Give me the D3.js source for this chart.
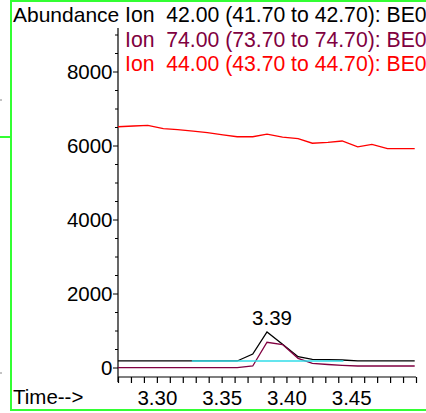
<!DOCTYPE html>
<html>
<head>
<meta charset="utf-8">
<script src="https://cdn.jsdelivr.net/npm/d3@7"></script>
<style>
  body { margin: 0; background: #fff; }
  svg { display: block; font-family: "Liberation Sans", Arial, sans-serif; }
  text { white-space: pre; }
</style>
</head>
<body>
<div id="chart"></div>
<script>
// Scan times (min)
const times = [3.270, 3.282, 3.293, 3.305, 3.316, 3.328, 3.339, 3.351, 3.362, 3.374,
    3.385, 3.397, 3.409, 3.420, 3.432, 3.443, 3.455, 3.466, 3.478, 3.489, 3.499];

// Ion 42.00 (black)
const ion42 = [190, 190, 190, 190, 190, 190, 190, 190, 190, 378,
    973, 640, 305, 235, 225, 216, 190, 190, 190, 190, 190];
// Ion 74.00 (purple)
const ion74 = [10, 10, 10, 10, 10, 10, 10, 10, 10, 54,
    695, 635, 262, 127, 95, 73, 54, 54, 54, 54, 54];
// Ion 44.00 (red)
const ion44 = [6520, 6540, 6560, 6470, 6440, 6400, 6360, 6300, 6250, 6250,
    6320, 6240, 6200, 6075, 6100, 6135, 5975, 6045, 5930, 5930, 5930];

// Integration baseline (cyan)
const baseTimes = [3.327, 3.444];
const baseValues = [190, 190];

const legendLabels = [
    "Ion  42.00 (41.70 to 42.70): BE0",
    "Ion  74.00 (73.70 to 74.70): BE0",
    "Ion  44.00 (43.70 to 44.70): BE0"
];
const legendColors = ["#000000", "#800040", "#ff0000"];

const peakTime = 3.385, peakValue = 973, peakLabel = "3.39";

const yLabelTicks = [0, 2000, 4000, 6000, 8000];
const xLabelTicks = [3.30, 3.35, 3.40, 3.45];

const width = 426, height = 413;
const fs = "20.5px";

const svg = d3.select("#chart").append("svg")
    .attr("width", width)
    .attr("height", height);

// Scales
const x = d3.scaleLinear().domain([3.27, 3.50]).range([118, 416]);
const y = d3.scaleLinear().domain([0, 8000]).range([368, 72]);
const axisTop = 28, axisBottom = 377;

// Green frame
const green = "#33ff33";
svg.append("line").attr("x1", 11).attr("x2", 11).attr("y1", 0).attr("y2", 411)
    .attr("stroke", green).attr("stroke-width", 2);
svg.append("line").attr("x1", 11).attr("x2", width).attr("y1", 1).attr("y2", 1)
    .attr("stroke", green).attr("stroke-width", 2);
svg.append("line").attr("x1", 11).attr("x2", width).attr("y1", 410).attr("y2", 410)
    .attr("stroke", green).attr("stroke-width", 2);
svg.append("line").attr("x1", 0).attr("x2", 11).attr("y1", 137).attr("y2", 137)
    .attr("stroke", green).attr("stroke-width", 2);
// stray marks from the neighbouring panel
[100, 373].forEach(function(yy) {
    svg.append("line").attr("x1", 0).attr("x2", 2).attr("y1", yy).attr("y2", yy)
        .attr("stroke", "#888");
});

// Y axis
const yMinor = d3.range(-0, 9001, 500);
const yAxis = svg.append("g").attr("transform", "translate(118,0)");
yAxis.append("line").attr("x1", 0).attr("x2", 0)
    .attr("y1", axisTop).attr("y2", 382).attr("stroke", "#000").attr("stroke-width", 1.2);
yAxis.selectAll(".ytick").data(yMinor).enter().append("line")
    .attr("x1", d => yLabelTicks.includes(d) ? -5 : -3)
    .attr("x2", 0)
    .attr("y1", d => y(d)).attr("y2", d => y(d))
    .attr("stroke", "#000");
yAxis.selectAll(".ylab").data(yLabelTicks).enter().append("text")
    .attr("x", -5.5)
    .attr("y", d => y(d))
    .attr("dy", "0.35em")
    .attr("text-anchor", "end")
    .style("font-size", fs)
    .text(d => d);

// X axis
const xAxis = d3.axisBottom(x)
    .tickValues(d3.range(3.27, 3.505, 0.01))
    .tickSize(6)
    .tickPadding(7.4)
    .tickFormat(d => xLabelTicks.some(v => Math.abs(v - d) < 1e-6) ? d3.format(".2f")(d) : "");
const gx = svg.append("g")
    .attr("transform", "translate(0," + axisBottom + ")")
    .call(xAxis);
gx.select(".domain").remove();
gx.selectAll("text").style("font-size", fs).style("font-family", "inherit").attr("fill", "#000");
gx.selectAll("line").attr("stroke-width", 1.2);
svg.append("line").attr("x1", 118).attr("x2", 416)
    .attr("y1", axisBottom).attr("y2", axisBottom)
    .attr("stroke", "#000").attr("stroke-width", 1.2);

// Axis titles
svg.append("text").attr("x", 13).attr("y", 22).style("font-size", "21px").text("Abundance");
svg.append("text").attr("x", 13).attr("y", 404).style("font-size", fs).text("Time-->");

// Legend
svg.selectAll(".legend").data(legendLabels).enter().append("text")
    .attr("x", 125)
    .attr("y", (d, i) => 22 + i * 24.5)
    .attr("fill", (d, i) => legendColors[i])
    .style("font-size", "21.2px")
    .text(d => d);

// Traces
const line = d3.line()
    .x(d => x(d[0]))
    .y(d => y(d[1]));

const series = [
    { values: ion44, color: "#ff0000" },
    { values: ion42, color: "#000000" },
    { values: ion74, color: "#800040" }
];
series.forEach(function(s) {
    svg.append("path")
        .datum(times.map((t, i) => [t, s.values[i]]))
        .attr("fill", "none")
        .attr("stroke", s.color)
        .attr("stroke-width", 1.3)
        .attr("d", line);
});

// Integration baseline
svg.append("path")
    .datum(baseTimes.map((t, i) => [t, baseValues[i]]))
    .attr("fill", "none")
    .attr("stroke", "#30dce8")
    .attr("stroke-width", 1.5)
    .attr("d", line);

// Peak label
svg.append("text")
    .attr("x", x(peakTime) + 5)
    .attr("y", y(peakValue) - 7)
    .attr("text-anchor", "middle")
    .style("font-size", fs)
    .text(peakLabel);
</script>
</body>
</html>
